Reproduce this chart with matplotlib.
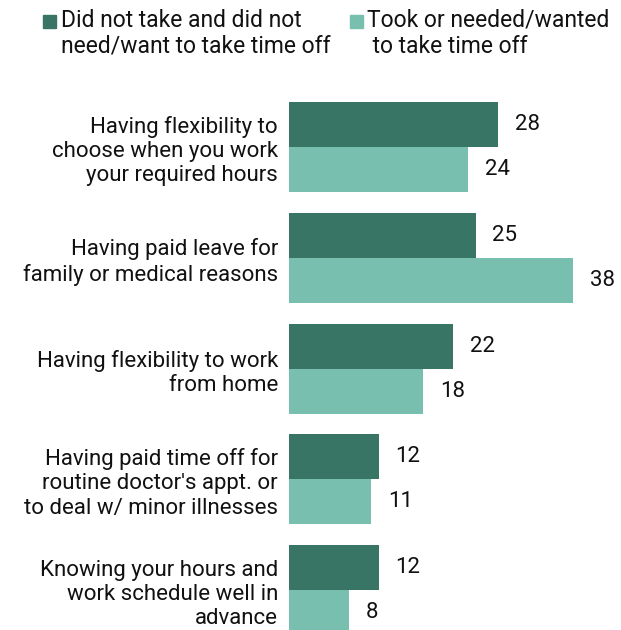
import numpy as np
import matplotlib
matplotlib.use('Agg')
import matplotlib.pyplot as plt
from matplotlib.patches import Rectangle

categories = [
    "Having flexibility to\nchoose when you work\nyour required hours",
    "Having paid leave for\nfamily or medical reasons",
    "Having flexibility to work\nfrom home",
    "Having paid time off for\nroutine doctor's appt. or\nto deal w/ minor illnesses",
    "Knowing your hours and\nwork schedule well in\nadvance",
]
did_not_take = [28, 25, 22, 12, 12]
took_or_needed = [24, 38, 18, 11, 8]
series_names = [
    "Did not take and did not\nneed/want to take time off",
    "Took or needed/wanted\n to take time off",
]

DARK = "#387565"
LIGHT = "#78bfaf"

plt.rcParams['font.family'] = ['Roboto', 'DejaVu Sans']

W, H = 621, 630
fig = plt.figure(figsize=(W / 100, H / 100), dpi=100)

# axes spans from the bar baseline to the right edge, pixel rows 80..630
ax = fig.add_axes([289 / W, 0, (W - 289) / W, (H - 80) / H])
ax.set_xlim(0, (W - 289) / 7.47)
ax.set_ylim(4.36, -0.605)

y = np.arange(len(categories))
h = 0.406
ax.barh(y - h / 2, did_not_take, height=h, color=DARK)
ax.barh(y + h / 2, took_or_needed, height=h, color=LIGHT)

for i in range(len(categories)):
    for v, yy in ((did_not_take[i], y[i] - h / 2), (took_or_needed[i], y[i] + h / 2)):
        ax.annotate(str(v), xy=(v, yy), xytext=(12, 0), textcoords='offset points',
                    ha='left', va='center', fontsize=16, color='#111111')

ax.set_yticks(y)
ax.set_yticklabels(categories, fontsize=16, color='#111111', linespacing=1.2)
ax.tick_params(axis='y', length=0, pad=8)
ax.set_xticks([])
for s in ax.spines.values():
    s.set_visible(False)

# legend drawn by hand: (square x, text x, colour, label)
for sx, tx, color, name in ((43, 61, DARK, series_names[0]),
                            (350, 367, LIGHT, series_names[1])):
    fig.patches.append(Rectangle((sx / W, 1 - 28 / H), 13 / W, 13 / H,
                                 transform=fig.transFigure, color=color))
    fig.text(tx / W, 1 - 9 / H, name, ha='left', va='top',
             fontsize=16.5, color='#111111', linespacing=1.15)

fig.savefig('out.png', dpi=100)
